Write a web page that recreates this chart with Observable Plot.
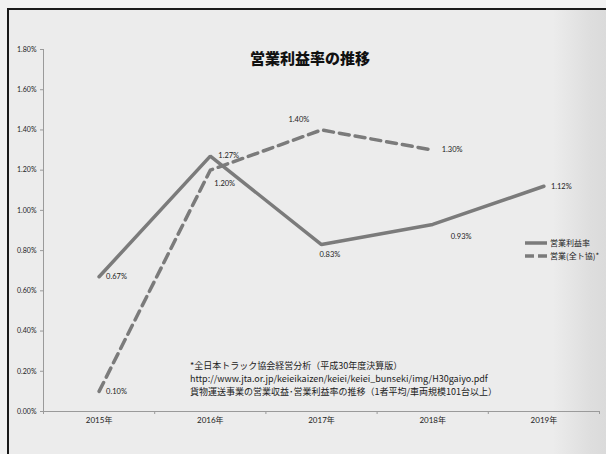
<!DOCTYPE html>
<html>
<head>
<meta charset="utf-8">
<script src="https://cdn.jsdelivr.net/npm/d3@7"></script>
<script src="https://cdn.jsdelivr.net/npm/@observablehq/plot@0.6"></script>
<style>
  html, body { margin: 0; padding: 0; background: #f2f2f2; }
  #wrap { position: relative; width: 606px; height: 454px; overflow: hidden;
          font-family: Lato, "Noto Sans CJK JP", sans-serif; color: #222; }
  #frame { position: absolute; left: 7px; top: 8px; width: 620px; height: 460px;
           background: linear-gradient(to right, #ececec 0%, #ececec 88%, #dedede 94%, #d6d6d6 100%);
           border-left: 2px solid #1a1a1a; border-top: 2px solid #1a1a1a; box-sizing: border-box; }
  #chart { position: absolute; left: 0; top: 0; }
  #title { position: absolute; left: 0; width: 620px; top: 47px; text-align: center;
           font-family: "Noto Sans CJK JP", sans-serif; font-weight: 900; font-size: 15px; color: #111; }
  .leg { position: absolute; left: 525px; font-size: 8px; font-family: "Noto Sans CJK JP", sans-serif;
         display: flex; align-items: center; white-space: nowrap; color: #222; }
  .leg svg { margin-right: 2px; }
  #note { position: absolute; left: 190px; top: 359px; font-size: 9px; line-height: 13px;
          font-family: "Noto Sans CJK JP", sans-serif; color: #222; white-space: nowrap; }
</style>
</head>
<body>
<div id="wrap">
  <div id="frame"></div>
  <div id="chart"></div>
  <div id="title"></div>
  <div class="leg" id="leg1" style="top:237px"></div>
  <div class="leg" id="leg2" style="top:250px"></div>
  <div id="note"></div>
</div>
<script>
// ---- data ----
const title = "営業利益率の推移";
const years = [2015, 2016, 2017, 2018, 2019];
const seriesNames = ["営業利益率", "営業(全ト協)*"];
const profitRate = [0.67, 1.27, 0.83, 0.93, 1.12];          // %
const jtaRate = [0.10, 1.20, 1.40, 1.30];                    // % (2015–2018)
const yTicks = [0, 0.2, 0.4, 0.6, 0.8, 1.0, 1.2, 1.4, 1.6, 1.8]; // %
const noteLines = [
  "*全日本トラック協会経営分析（平成30年度決算版）",
  "http://www.jta.or.jp/keieikaizen/keiei/keiei_bunseki/img/H30gaiyo.pdf",
  "貨物運送事業の営業収益･営業利益率の推移（1者平均/車両規模101台以上）"
];

// ---- label placement (style) ----
const profitOffsets = [[7, 0], [8, 0], [-2, 10], [18, 12], [7, 0]];
const jtaOffsets = [[7, 0], [4, 13], [-33, -10], [9, 0]];

const profitRows = profitRate.map((v, i) => ({year: years[i], value: v / 100, label: v.toFixed(2) + "%"}));
const jtaRows = jtaRate.map((v, i) => ({year: years[i], value: v / 100, label: v.toFixed(2) + "%"}));
const boundaries = d3.range(years.length + 1).map(i => years[0] - 0.5 + i);

const lineColor = "#7b7b7b";
const axisColor = "#9a9a9a";
const fontFam = 'Lato, "Noto Sans CJK JP", sans-serif';

const labelMarks = [];
profitRows.forEach((r, i) => labelMarks.push(Plot.text([r], {
  x: "year", y: "value", text: "label", textAnchor: "start",
  dx: profitOffsets[i][0], dy: profitOffsets[i][1], fontSize: 7.5, fill: "#222"
})));
jtaRows.forEach((r, i) => labelMarks.push(Plot.text([r], {
  x: "year", y: "value", text: "label", textAnchor: "start",
  dx: jtaOffsets[i][0], dy: jtaOffsets[i][1], fontSize: 7.5, fill: "#222"
})));

const chart = Plot.plot({
  width: 606, height: 454,
  marginLeft: 43, marginRight: 7, marginTop: 49, marginBottom: 43,
  x: {type: "linear", domain: [boundaries[0], boundaries[boundaries.length - 1]]},
  y: {domain: [0, 0.018]},
  style: {background: "transparent", fontFamily: fontFam, color: "#222", overflow: "visible"},
  marks: [
    Plot.axisY({ticks: yTicks.map(t => t / 100), tickFormat: d => (d * 100).toFixed(2) + "%",
      tickSize: 3, tickPadding: 4, stroke: axisColor, fontSize: 7, label: null}),
    Plot.axisX({ticks: years, tickSize: 0, tickPadding: 6, tickFormat: d => d + "年",
      fontSize: 8, label: null}),
    Plot.axisX({ticks: boundaries, tickSize: 3, tickFormat: () => "", stroke: axisColor, label: null}),
    Plot.ruleX([boundaries[0]], {stroke: axisColor}),
    Plot.ruleY([0], {stroke: axisColor}),
    Plot.line(profitRows, {x: "year", y: "value", stroke: lineColor, strokeWidth: 3.5,
      strokeLinejoin: "miter"}),
    Plot.line(jtaRows, {x: "year", y: "value", stroke: lineColor, strokeWidth: 3.5,
      strokeDasharray: "10,6"}),
    ...labelMarks
  ]
});
document.getElementById("chart").appendChild(chart);

document.getElementById("title").textContent = title;

function legend(id, name, dash) {
  const el = document.getElementById(id);
  el.innerHTML = `<svg width="23" height="6"><line x1="0" y1="3" x2="22" y2="3" stroke="${lineColor}" stroke-width="3.5" ${dash ? 'stroke-dasharray="9,4"' : ''}/></svg>`;
  const s = document.createElement("span");
  s.textContent = name;
  el.appendChild(s);
}
legend("leg1", seriesNames[0], false);
legend("leg2", seriesNames[1], true);

const note = document.getElementById("note");
noteLines.forEach(t => { const d = document.createElement("div"); d.textContent = t; note.appendChild(d); });
</script>
</body>
</html>
